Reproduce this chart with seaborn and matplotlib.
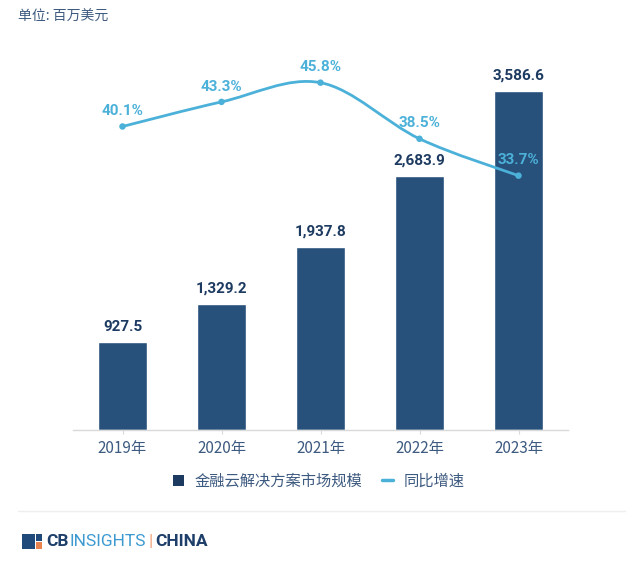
import matplotlib
matplotlib.use("Agg")
import matplotlib.pyplot as plt
import seaborn as sns
from matplotlib.path import Path
from matplotlib.patches import PathPatch, Rectangle
from matplotlib.lines import Line2D

years = ["2019年", "2020年", "2021年", "2022年", "2023年"]
market_size = [927.5, 1329.2, 1937.8, 2683.9, 3586.6]
growth = [40.1, 43.3, 45.8, 38.5, 33.7]
bar_labels = ["927.5", "1,329.2", "1,937.8", "2,683.9", "3,586.6"]
growth_labels = ["40.1%", "43.3%", "45.8%", "38.5%", "33.7%"]

BAR = "#27507a"
LINE = "#4cb1d9"
NAVY = "#1d3a60"
TEXT = "#3d5a80"

sns.set_style("white")
plt.rcParams["font.family"] = ["Noto Sans CJK SC", "DejaVu Sans"]

fig = plt.figure(figsize=(6.41, 5.68), dpi=100)
ax = fig.add_axes([73 / 641, 138 / 568, 495 / 641, 370 / 568])

sns.barplot(x=years, y=market_size, color=BAR, saturation=1, width=0.5, ax=ax)
ax.set_xlim(-0.5, 4.5)
ax.set_ylim(0, 3911)
ax.set_yticks([])
ax.set_xlabel("")
ax.set_ylabel("")
for s in ["top", "right", "left"]:
    ax.spines[s].set_visible(False)
ax.spines["bottom"].set_color("#d9d9d9")
ax.spines["bottom"].set_linewidth(1)
ax.tick_params(axis="x", bottom=True, length=3, color="#d9d9d9", labelsize=11,
               labelcolor=TEXT, pad=4)

for i, v in enumerate(market_size):
    ax.annotate(bar_labels[i], (i, v), xytext=(0, 6), textcoords="offset points",
                ha="center", va="bottom", fontsize=11, fontweight="bold",
                color=NAVY, family=["Roboto", "DejaVu Sans"])

ax2 = ax.twinx()
ax2.set_ylim(0.61, 48.75)
ax2.set_xlim(-0.5, 4.5)
ax2.axis("off")

# smooth curve through the growth points (Catmull-Rom as cubic Bezier)
pts = list(zip(range(len(growth)), growth))
verts = [pts[0]]
codes = [Path.MOVETO]
for i in range(len(pts) - 1):
    p0 = pts[i - 1] if i > 0 else pts[i]
    p1 = pts[i]
    p2 = pts[i + 1]
    p3 = pts[i + 2] if i + 2 < len(pts) else pts[i + 1]
    c1 = (p1[0] + (p2[0] - p0[0]) / 6, p1[1] + (p2[1] - p0[1]) / 6)
    c2 = (p2[0] - (p3[0] - p1[0]) / 6, p2[1] - (p3[1] - p1[1]) / 6)
    verts += [c1, c2, p2]
    codes += [Path.CURVE4] * 3
ax2.add_patch(PathPatch(Path(verts, codes), fill=False, edgecolor=LINE, lw=2))
sns.scatterplot(x=list(range(len(growth))), y=growth, color=LINE, s=22,
                edgecolor="none", ax=ax2, zorder=3)

for i, v in enumerate(growth):
    ax2.annotate(growth_labels[i], (i, v), xytext=(0, 6), textcoords="offset points",
                 ha="center", va="bottom", fontsize=11, fontweight="bold",
                 color=LINE, family=["Roboto", "DejaVu Sans"])

fig.text(18 / 641, 1 - 17 / 568, "单位: 百万美元", fontsize=10, color=TEXT,
         ha="left", va="center")

handles = [
    Rectangle((0, 0), 1, 1, facecolor=NAVY, edgecolor="none"),
    Line2D([0], [0], color=LINE, lw=2.5),
]
leg = fig.legend(handles, ["金融云解决方案市场规模", "同比增速"], loc="center",
                 bbox_to_anchor=(0.497, 1 - 481 / 568), ncol=2, frameon=False,
                 fontsize=11, handlelength=0.7, handleheight=0.7,
                 handletextpad=0.7, columnspacing=1.3)
for t in leg.get_texts():
    t.set_color(TEXT)

# separator and logo
fig.add_artist(Line2D([18 / 641, 625 / 641], [1 - 511 / 568, 1 - 511 / 568],
                      color="#eeeeee", lw=1))
ly = 1 - 541 / 568
fig.add_artist(Rectangle((22 / 641, 1 - 549 / 568), 13 / 641, 15 / 568,
                         facecolor="#1f4a7a", edgecolor="none"))
fig.add_artist(Rectangle((36 / 641, 1 - 541 / 568), 6 / 641, 7 / 568,
                         facecolor="#1f4a7a", edgecolor="none"))
fig.add_artist(Rectangle((36 / 641, 1 - 549 / 568), 6 / 641, 7 / 568,
                         facecolor="#e8834f", edgecolor="none"))
logo_font = ["Roboto", "DejaVu Sans"]
t1 = fig.text(46 / 641, ly, "CB", fontsize=12.5, fontweight="bold", color="#1f3f6b",
              va="center", ha="left", family=logo_font)
t2 = plt.annotate("INSIGHTS", xy=(1, 0.5), xycoords=t1, xytext=(0.5, 0),
                  textcoords="offset points", va="center", ha="left",
                  fontsize=12.5, color="#3d9ad1", family=logo_font,
                  annotation_clip=False)
t3 = plt.annotate("|", xy=(1, 0.5), xycoords=t2, xytext=(2, 0),
                  textcoords="offset points", va="center", ha="left",
                  fontsize=12.5, color="#f0a07a", family=logo_font,
                  annotation_clip=False)
plt.annotate("CHINA", xy=(1, 0.5), xycoords=t3, xytext=(2, 0),
             textcoords="offset points", va="center", ha="left",
             fontsize=12.5, fontweight="bold", color="#1f3f6b", family=logo_font,
             annotation_clip=False)

fig.savefig("out.png", dpi=100)
